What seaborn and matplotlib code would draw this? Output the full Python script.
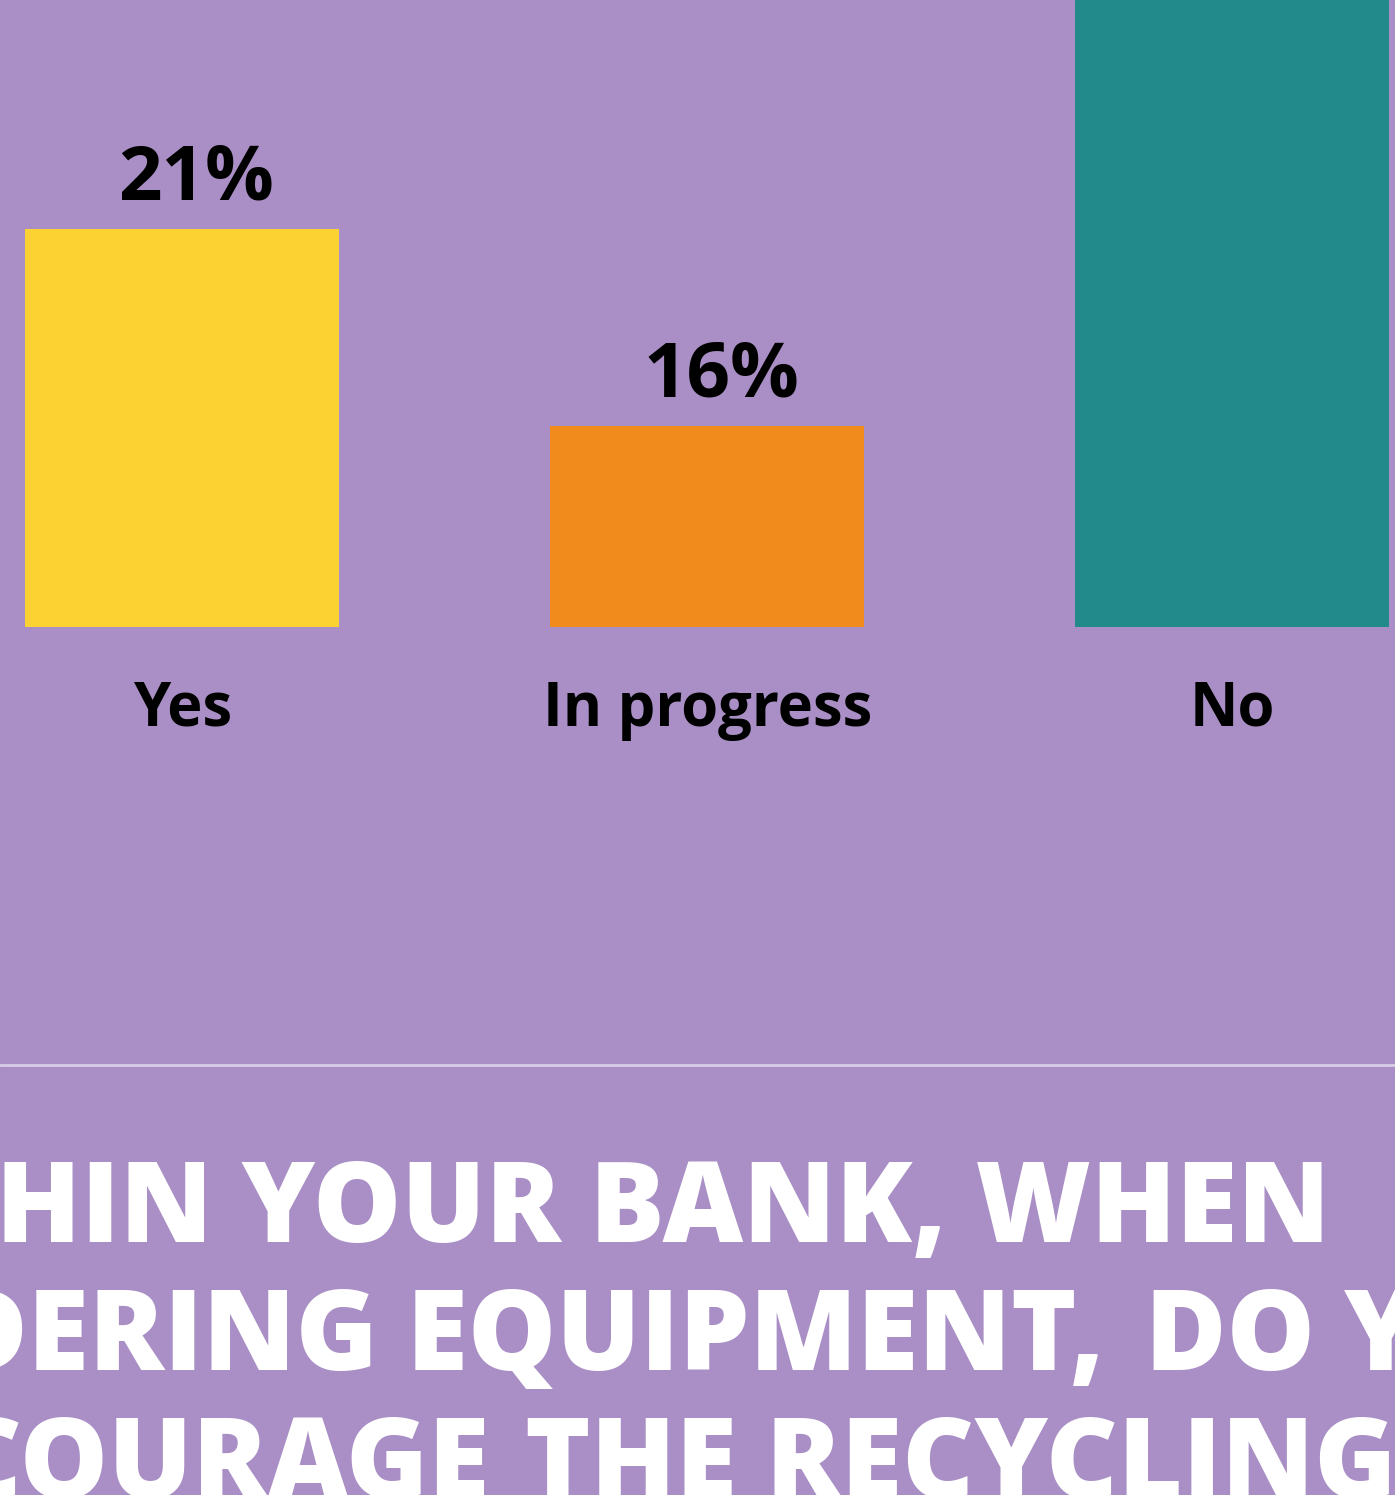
import matplotlib
matplotlib.use("Agg")
import matplotlib.pyplot as plt
import seaborn as sns
import pandas as pd

# survey answers
answers = ["Yes", "In progress", "No"]
shares = [21, 16, 63]
bar_colors = ["#FCD232", "#F18B1C", "#238A8C"]

title_lines = ["WITHIN YOUR BANK, WHEN",
               "CONSIDERING EQUIPMENT, DO YOU",
               "ENCOURAGE THE RECYCLING"]

bg = "#A98FC5"
sns.set_theme(style="white")
plt.rcParams["font.family"] = ["Open Sans", "DejaVu Sans"]

df = pd.DataFrame({"answer": answers, "share": shares})

W, H = 1395, 1495
fig = plt.figure(figsize=(W / 100, H / 100), dpi=100, facecolor=bg)
ax = fig.add_axes([0, (H - 627) / H, 1, 627 / H])
ax.set_facecolor(bg)

sns.barplot(data=df, x="answer", y="share", hue="answer", palette=bar_colors,
            width=0.598, legend=False, ax=ax, saturation=1, linewidth=0)

ax.set_xlim(-0.347, 2.31)
ax.set_ylim(10.9, 26.8)
for c in ax.containers:
    labs = ax.bar_label(c, labels=[f"{v:.0f}%" for v in c.datavalues], padding=8,
                        fontsize=55, fontweight="bold", color="black")
    for t in labs:
        t.xyann = (10, t.xyann[1])

ax.set_xlabel("")
ax.set_ylabel("")
ax.set_yticks([])
ax.tick_params(axis="x", length=0, pad=38, labelsize=43)
for t in ax.get_xticklabels():
    t.set_fontweight("bold")
    t.set_color("black")
sns.despine(ax=ax, left=True, bottom=True)

# separator line
fig.add_artist(plt.Line2D([0, 1], [1 - 1065 / H] * 2, color="#D8CCE6", lw=2))

# cropped question text
tkw = dict(fontsize=80, fontweight=800, color="white", va="baseline")
fig.text(1330 / W, 1 - 1242 / H, title_lines[0], ha="right", **tkw)
fig.text(1104 / W, 1 - 1370 / H, "CONSIDERING EQUIPMENT,", ha="right", **tkw)
fig.text(1145 / W, 1 - 1370 / H, "DO YOU", ha="left", **tkw)
fig.text(490 / W, 1 - 1498 / H, "ENCOURAGE", ha="right", **tkw)
fig.text(525 / W, 1 - 1498 / H, "THE RECYCLING", ha="left", **tkw)

fig.savefig("out.png", dpi=100, facecolor=bg)
